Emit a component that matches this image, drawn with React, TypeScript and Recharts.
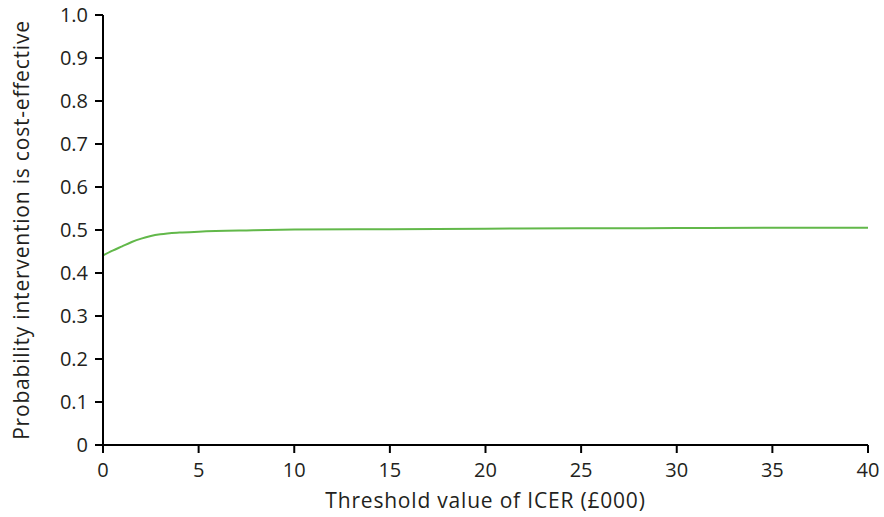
import { LineChart, Line, XAxis, YAxis } from 'recharts';

const thresholds = [0, 0.5, 1, 1.5, 2, 2.5, 3, 4, 5, 7.5, 10, 15, 20, 25, 30, 35, 40];
const probability = [0.441, 0.452, 0.462, 0.472, 0.48, 0.486, 0.49, 0.494, 0.496, 0.499, 0.501, 0.502, 0.503, 0.504, 0.5045, 0.505, 0.505];
const xTicks = [0, 5, 10, 15, 20, 25, 30, 35, 40];
const yTicks = [0, 0.1, 0.2, 0.3, 0.4, 0.5, 0.6, 0.7, 0.8, 0.9, 1.0];

const data = thresholds.map((t, i) => ({ t, p: probability[i] }));

const font = '"Open Sans", "Noto Sans", sans-serif';
const textColor = '#231f20';
const tickStyle = { fontSize: 20, fill: textColor, fontFamily: font };
const labelStyle = { fontSize: 21, fill: textColor, fontFamily: font, letterSpacing: 0.8, textAnchor: 'middle' as const };

export default function App() {
  return (
    <div style={{ width: 884, height: 517 }}>
      {/* drop the default body margin so the chart fills the window */}
      <style>{'html, body { margin: 0; padding: 0; overflow: hidden; }'}</style>
      <LineChart width={884} height={517} data={data} margin={{ top: 15, right: 16, left: 0, bottom: 0 }} style={{ overflow: 'visible' }}>
        <XAxis
          dataKey="t"
          type="number"
          domain={[0, 40]}
          ticks={xTicks}
          height={72}
          tickSize={8}
          tickMargin={10}
          stroke="#000"
          strokeWidth={2}
          tick={tickStyle}
          label={{ value: 'Threshold value of ICER (£000)', position: 'insideBottom', offset: 9, style: labelStyle }}
        />
        <YAxis
          type="number"
          domain={[0, 1]}
          ticks={yTicks}
          width={103}
          tickSize={8}
          tickMargin={7}
          stroke="#000"
          strokeWidth={2}
          tick={tickStyle}
          tickFormatter={(v: number) => (v === 0 ? '0' : v.toFixed(1))}
          label={{ value: 'Probability intervention is cost-effective', angle: -90, position: 'insideLeft', offset: 22, style: labelStyle }}
        />
        <Line type="monotone" dataKey="p" stroke="#62b84a" strokeWidth={2} dot={false} isAnimationActive={false} />
      </LineChart>
    </div>
  );
}
